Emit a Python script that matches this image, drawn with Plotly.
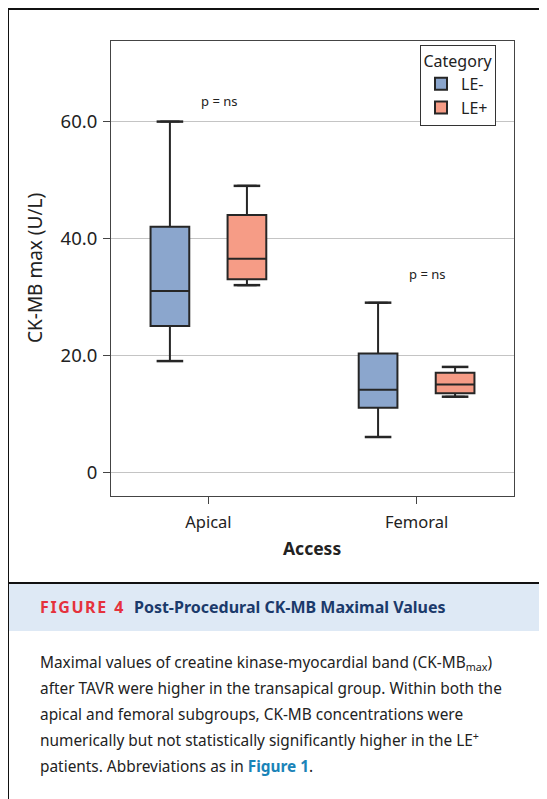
import plotly.graph_objects as go

# ---- data ----
categories = ["Apical", "Femoral"]
series_names = ["LE-", "LE+"]
le_minus_lower = [19, 6]
le_minus_q1 = [25, 11]
le_minus_median = [31, 14.1]
le_minus_q3 = [42, 20.3]
le_minus_upper = [60, 29]
le_plus_lower = [32, 12.9]
le_plus_q1 = [33, 13.5]
le_plus_median = [36.5, 15]
le_plus_q3 = [44, 17]
le_plus_upper = [49, 18]
y_tickvals = [0, 20, 40, 60]
y_ticktext = ["0", "20.0", "40.0", "60.0"]
pvalue_labels = ["p = ns", "p = ns"]
pvalue_y = [63.5, 33.9]

# ---- styles ----
W, H = 547, 799
SH = 8  # page body margin offset
PLOT_L, PLOT_R, PLOT_T, PLOT_B = 111, 514, 41, 496  # screen px of plot area
L = PLOT_L - SH
T = PLOT_T - SH
PW = PLOT_R - PLOT_L
PH = PLOT_B - PLOT_T
R = W - L - PW
B = H - T - PH
FONT = "Noto Sans"
colors = ["#8ba6cd", "#f69c86"]
offset = 0.185
boxw = 0.186

def px(x):
    return (x - PLOT_L) / PW

def py(y):
    return (PLOT_B - y) / PH

fig = go.Figure()
series = [
    (le_minus_lower, le_minus_q1, le_minus_median, le_minus_q3, le_minus_upper),
    (le_plus_lower, le_plus_q1, le_plus_median, le_plus_q3, le_plus_upper),
]
for si, (lo, q1, med, q3, up) in enumerate(series):
    xs = [i + (-offset if si == 0 else offset) for i in range(len(categories))]
    fig.add_trace(go.Box(
        x=xs, q1=q1, median=med, q3=q3, lowerfence=lo, upperfence=up,
        width=boxw, name=series_names[si], fillcolor=colors[si],
        line=dict(color="#262626", width=2), hoverinfo="skip",
    ))
    fig.add_trace(go.Scatter(
        x=xs + xs, y=lo + up, mode="markers", showlegend=False, hoverinfo="skip",
        marker=dict(symbol="line-ew", size=19, line=dict(color="#262626", width=2.5)),
    ))

annotations = []
for i, (lab, yv) in enumerate(zip(pvalue_labels, pvalue_y)):
    annotations.append(dict(x=i + 0.05, y=yv, xref="x", yref="y", text=lab, showarrow=False,
                            xanchor="center", yanchor="middle",
                            font=dict(family=FONT, size=13, color="#222")))

# axis titles
annotations.append(dict(x=px(35), y=py(268), xref="paper", yref="paper", text="CK-MB max (U/L)",
                        textangle=-90, showarrow=False, xanchor="center", yanchor="middle",
                        font=dict(family=FONT, size=19, color="#222")))
annotations.append(dict(x=px(312), y=py(548), xref="paper", yref="paper", text="<b>Access</b>",
                        showarrow=False, xanchor="center", yanchor="middle",
                        font=dict(family=FONT, size=17.5, color="#222")))

# caption
annotations.append(dict(x=px(38), y=py(607), xref="paper", yref="paper", xanchor="left", yanchor="middle",
                        text="<b><span style='color:#e5323d'>F\u200aI\u200aG\u200aU\u200aR\u200aE\u20024</span></b>"
                             "\u2002\u2009<b><span style='color:#1b3a6b'>Post-Procedural CK-MB Maximal Values</span></b>",
                        showarrow=False, font=dict(family=FONT, size=16, color="#1b3a6b")))
caption_lines = [
    "Maximal values of creatine kinase-myocardial band (CK-MB<sub>max</sub>)",
    "after TAVR were higher in the transapical group. Within both the",
    "apical and femoral subgroups, CK-MB concentrations were",
    "numerically but not statistically significantly higher in the LE<sup>+</sup>",
    "patients. Abbreviations as in <b><span style='color:#1a84b8'>Figure 1</span></b>.",
]
caption_y = [663, 688, 714, 740, 766]
for line, yy in zip(caption_lines, caption_y):
    annotations.append(dict(x=px(38), y=py(yy), xref="paper", yref="paper", xanchor="left", yanchor="middle",
                            text=line, showarrow=False, font=dict(family=FONT, size=15.4, color="#222")))

shapes = [
    dict(type="rect", xref="paper", yref="paper", x0=px(8), x1=px(570), y0=py(584), y1=py(631),
         fillcolor="#dee9f5", line=dict(width=0), layer="below"),
    dict(type="line", xref="paper", yref="paper", x0=px(7), x1=px(570), y0=py(583), y1=py(583),
         line=dict(color="#111", width=2)),
    dict(type="rect", xref="paper", yref="paper", x0=px(8), x1=px(580), y0=py(9), y1=py(830),
         line=dict(color="#111", width=2)),
]

fig.update_layout(
    width=W, height=H, margin=dict(l=L, r=R, t=T, b=B, pad=0),
    paper_bgcolor="white", plot_bgcolor="white",
    font=dict(family=FONT, color="#222"),
    showlegend=True,
    legend=dict(x=px(496), y=py(45), xanchor="right", yanchor="top",
                bordercolor="#333", borderwidth=1, bgcolor="white",
                title=dict(text="Category", side="top center", font=dict(size=16, family=FONT)),
                font=dict(size=16, family=FONT), itemwidth=30),
    xaxis=dict(range=[-0.468, 1.468], tickvals=[0, 1], ticktext=categories,
               showgrid=False, zeroline=False, showline=True, linecolor="#444", linewidth=1, mirror=True,
               ticks="outside", ticklen=7, tickcolor="#444", ticklabelstandoff=4,
               tickfont=dict(size=16.5, family=FONT, color="#222")),
    yaxis=dict(range=[-4.1, 73.8], tickvals=y_tickvals, ticktext=y_ticktext,
               showgrid=True, gridcolor="#c4c4c4", gridwidth=1, zeroline=False,
               showline=True, linecolor="#444", linewidth=1, mirror=True,
               ticks="outside", ticklen=7, tickcolor="#444", ticklabelstandoff=2,
               tickfont=dict(size=18.5, family=FONT, color="#222")),
    annotations=annotations, shapes=shapes,
)

fig.write_html("out.html")
